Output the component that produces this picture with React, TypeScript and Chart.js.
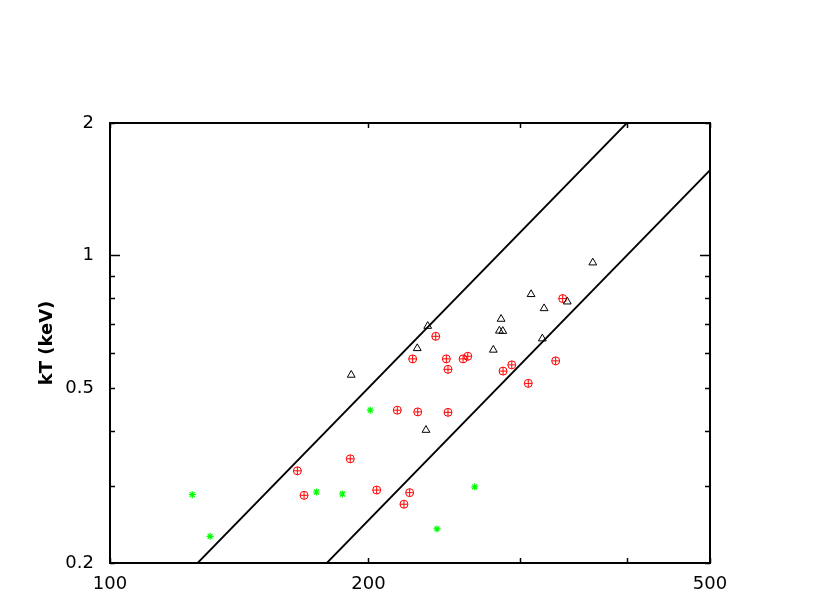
import React, { useEffect, useRef } from "react";
import { Chart, registerables } from "chart.js";

Chart.register(...registerables);

// Axis ticks
const xTickValues = [100, 200, 300, 400, 500];
const xLabeled = [100, 200, 500];
const yTickValues = [0.2, 0.3, 0.4, 0.5, 0.6, 0.7, 0.8, 0.9, 1, 2];
const yLabeled = [0.2, 0.5, 1, 2];
const yMajor = [1];

// Black open triangles
const triX = [191.0, 228.0, 234.5, 233.4, 279.6, 284.2, 286.8, 285.5, 309.4, 320.4, 318.9, 341.0, 365.1];
const triY = [0.535, 0.615, 0.691, 0.401, 0.61, 0.674, 0.673, 0.717, 0.816, 0.758, 0.647, 0.785, 0.963];

// Red circled crosses
const circX = [165.3, 168.3, 190.5, 204.5, 216.1, 220.0, 223.4, 225.2, 228.3, 239.6, 246.5, 247.6, 247.6, 257.8, 261.1, 287.0, 293.8, 307.1, 330.5, 336.8];
const circY = [0.324, 0.285, 0.345, 0.293, 0.445, 0.272, 0.289, 0.582, 0.441, 0.655, 0.582, 0.551, 0.44, 0.582, 0.59, 0.546, 0.564, 0.512, 0.576, 0.798];

// Green asterisks
const starX = [124.7, 130.8, 174.0, 186.5, 201.0, 266.0, 240.4];
const starY = [0.286, 0.23, 0.29, 0.287, 0.445, 0.298, 0.239];

// Reference lines (end points)
const line1X = [126.5, 400];
const line1Y = [0.2, 2];
const line2X = [178.9, 500];
const line2Y = [0.2, 1.5625];

const pts = (xs: number[], ys: number[]) => xs.map((x, i) => ({ x, y: ys[i] }));

const frameTicks = {
  id: "frameTicks",
  afterDatasetsDraw(chart: any) {
    const { ctx, chartArea, scales } = chart;
    const { left, right, top, bottom } = chartArea;
    ctx.save();
    ctx.strokeStyle = "#000";
    ctx.lineWidth = 2;
    ctx.strokeRect(left, top, right - left, bottom - top);
    ctx.lineWidth = 1.5;
    ctx.beginPath();
    xTickValues.forEach((v) => {
      const px = Math.round(scales.x.getPixelForValue(v)) + 0.5;
      ctx.moveTo(px, bottom);
      ctx.lineTo(px, bottom - 5);
      ctx.moveTo(px, top);
      ctx.lineTo(px, top + 5);
    });
    yTickValues.forEach((v) => {
      const py = Math.round(scales.y.getPixelForValue(v)) + 0.5;
      const len = yMajor.includes(v) ? 10 : 5;
      ctx.moveTo(left, py);
      ctx.lineTo(left + len, py);
      ctx.moveTo(right, py);
      ctx.lineTo(right - len, py);
    });
    ctx.stroke();
    ctx.restore();
  },
};

export default function App() {
  const ref = useRef<HTMLCanvasElement>(null);
  useEffect(() => {
    if (!ref.current) return;
    const tickFont = { family: "DejaVu Sans", size: 18 };
    const chart = new Chart(ref.current, {
      type: "scatter",
      data: {
        datasets: [
          {
            data: pts(line1X, line1Y),
            showLine: true,
            pointRadius: 0,
            borderColor: "#000",
            borderWidth: 1.8,
          },
          {
            data: pts(line2X, line2Y),
            showLine: true,
            pointRadius: 0,
            borderColor: "#000",
            borderWidth: 1.8,
          },
          {
            data: pts(triX, triY),
            pointStyle: "triangle",
            pointRadius: 4.5,
            borderColor: "#000",
            backgroundColor: "rgba(0,0,0,0)",
            borderWidth: 1,
          },
          {
            data: pts(circX, circY),
            pointStyle: "circle",
            pointRadius: 4,
            borderColor: "#ff0000",
            backgroundColor: "rgba(0,0,0,0)",
            borderWidth: 1,
          },
          {
            data: pts(circX, circY),
            pointStyle: "cross",
            pointRadius: 4,
            borderColor: "#ff0000",
            borderWidth: 1,
          },
          {
            data: pts(starX, starY),
            pointStyle: "star",
            pointRadius: 3.5,
            borderColor: "#00ff00",
            borderWidth: 1.2,
          },
        ],
      },
      options: {
        responsive: false,
        animation: false,
        events: [],
        layout: { padding: { left: 0, right: 120, top: 123, bottom: 0 } },
        plugins: { legend: { display: false }, tooltip: { enabled: false } },
        scales: {
          x: {
            type: "logarithmic",
            min: 100,
            max: 500,
            grid: { display: false, drawTicks: false },
            border: { display: false },
            afterBuildTicks: (s: any) => {
              s.ticks = xTickValues.map((v) => ({ value: v }));
            },
            afterFit: (s: any) => {
              s.height = 32;
            },
            ticks: {
              autoSkip: false,
              maxRotation: 0,
              padding: 11,
              color: "#000",
              font: tickFont,
              callback: (v: any) => (xLabeled.includes(Number(v)) ? String(v) : ""),
            },
          },
          y: {
            type: "logarithmic",
            min: 0.2,
            max: 2,
            grid: { display: false, drawTicks: false },
            border: { display: false },
            afterBuildTicks: (s: any) => {
              s.ticks = yTickValues.map((v) => ({ value: v }));
            },
            afterFit: (s: any) => {
              s.width = 110;
            },
            ticks: {
              autoSkip: false,
              padding: 16,
              color: "#000",
              font: tickFont,
              callback: (v: any) => (yLabeled.includes(Number(v)) ? String(v) : ""),
            },
            title: {
              display: true,
              text: "kT (keV)",
              color: "#000",
              font: { family: "DejaVu Sans", size: 18, weight: "bold" },
              padding: { top: 37, bottom: 0 },
            },
          },
        },
      },
      plugins: [frameTicks],
    } as any);
    return () => chart.destroy();
  }, []);
  return (
    <div style={{ position: "absolute", left: 0, top: 0, width: 830, height: 595 }}>
      <canvas ref={ref} width={830} height={595} />
    </div>
  );
}
